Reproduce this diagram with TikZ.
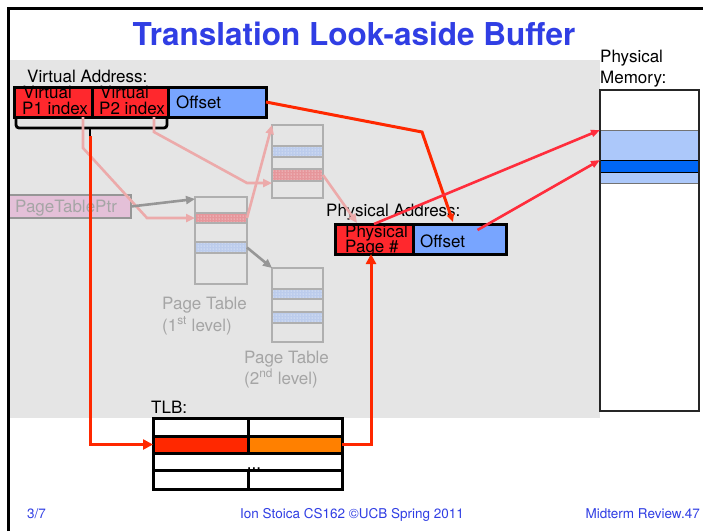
\documentclass[tikz,border=0pt]{standalone}
\usepackage{fontspec}
\setmainfont{TeX Gyre Heros}
\usetikzlibrary{arrows.meta,patterns,calc}

\definecolor{titleblue}{RGB}{48,62,228}
\definecolor{slidebg}{RGB}{229,229,229}
\definecolor{cellred}{RGB}{255,40,45}
\definecolor{cellblue}{RGB}{120,165,255}
\definecolor{linkred}{RGB}{255,40,0}
\definecolor{ptrred}{RGB}{255,45,60}
\definecolor{tlborange}{RGB}{255,128,0}
\definecolor{fadepink}{RGB}{236,170,170}
\definecolor{fadegray}{RGB}{150,150,150}
\definecolor{tablegray}{RGB}{175,175,175}
\definecolor{labelgray}{RGB}{165,165,165}
\definecolor{ptrfill}{RGB}{228,192,216}
\definecolor{rowpink}{RGB}{230,150,155}
\definecolor{rowblue}{RGB}{188,204,236}
\definecolor{memlight}{RGB}{172,200,250}
\definecolor{memdark}{RGB}{0,102,245}

\newcommand\fs[1]{\fontsize{#1}{#1}\selectfont}

\begin{document}
\begin{tikzpicture}[x=1pt,y=-1pt,
  box/.style 2 args={rectangle, anchor=north west, inner sep=0pt, outer sep=0pt,
                     minimum width=#1, minimum height=#2},
  txt/.style={inner sep=0pt, anchor=base west, font=\fs{17}},
  faint/.style={txt, text=labelgray},
  heavy/.style={draw=black, line width=3pt},
  tbl/.style={draw=tablegray, line width=1.1pt},
  pinkrow/.style={fill=rowpink, postaction={pattern=dots, pattern color=white}},
  bluerow/.style={fill=rowblue, postaction={pattern=dots, pattern color=white}},
  redlink/.style={draw=linkred, line width=3pt},
  redtip/.style={-{Triangle[length=10pt,width=10pt]}},
  ptrlink/.style={draw=ptrred, line width=2.6pt, -{Triangle[length=9pt,width=7pt]}},
  pinklink/.style={draw=fadepink, line width=2.6pt, -{Triangle[length=9pt,width=8pt]}},
  graylink/.style={draw=fadegray, line width=2.6pt, -{Triangle[length=9pt,width=8pt]}},
  footer/.style={inner sep=0pt, anchor=base, font=\fs{13.5}, text=titleblue},
]
\useasboundingbox (0,0) rectangle (703,531);
\fill[white] (0,0) rectangle (703,531);

% shaded work area
\fill[slidebg] (9,60) rectangle (600,418);

% title
\node[inner sep=0pt, anchor=base, font=\bfseries\fs{31.5}, text=titleblue] (title) at (354,45) {Translation Look-aside Buffer};

% physical memory
\node[txt] (memlabA) at (600,62) {Physical};
\node[txt] (memlabB) at (600,83) {Memory:};
\node[box={99pt}{321pt}, fill=white] (mem) at (600,90) {};
\node[box={99pt}{53pt}, fill=memlight, draw=black!55, line width=1pt] (page) at (600,130) {};
\node[box={99pt}{12pt}, fill=memdark, draw=black, line width=1pt] (word) at (600,160) {};
\draw[black!85, line width=1.8pt] (mem.north west) rectangle (mem.south east);

% page table pointer
\node[box={123pt}{23pt}, fill=ptrfill, draw=fadegray, line width=2.8pt] (ptr) at (8,195) {};
\node[txt, text=labelgray] (ptrtext) at (15,212) {PageTablePtr};

% first-level page table
\node[box={52pt}{87pt}] (pt1) at (195,197) {};
\node[box={52pt}{10pt}, pinkrow] (pt1a) at (195,213) {};
\node[box={52pt}{11pt}, bluerow] (pt1b) at (195,242) {};
\draw[tbl] (pt1.north west) rectangle (pt1.south east);
\draw[tbl] (pt1a.north west) rectangle (pt1a.south east);
\draw[tbl] (pt1b.north west) rectangle (pt1b.south east);

% second-level page tables
\node[box={51pt}{73pt}] (pt2a) at (272,125) {};
\node[box={51pt}{11pt}, bluerow] (pt2aa) at (272,146) {};
\node[box={51pt}{12pt}, pinkrow] (pt2ab) at (272,169) {};
\draw[tbl] (pt2a.north west) rectangle (pt2a.south east);
\draw[tbl] (pt2aa.north west) rectangle (pt2aa.south east);
\draw[tbl] (pt2ab.north west) rectangle (pt2ab.south east);

\node[box={51pt}{74pt}] (pt2b) at (272,268) {};
\node[box={51pt}{10pt}, bluerow] (pt2ba) at (272,289) {};
\node[box={51pt}{11pt}, bluerow] (pt2bb) at (272,312) {};
\draw[tbl] (pt2b.north west) rectangle (pt2b.south east);
\draw[tbl] (pt2ba.north west) rectangle (pt2ba.south east);
\draw[tbl] (pt2bb.north west) rectangle (pt2bb.south east);

\node[faint] (pt1labA) at (162,309) {Page Table};
\node[faint] (pt1labB) at (162,331) {(1\textsuperscript{st} level)};
\node[faint] (pt2labA) at (244,363) {Page Table};
\node[faint] (pt2labB) at (244,384) {(2\textsuperscript{nd} level)};

% virtual address
\node[txt] (valabel) at (27,82) {Virtual Address:};
\node[box={78pt}{30pt}, fill=cellred] (p1) at (14,87) {};
\node[box={76pt}{30pt}, fill=cellred] (p2) at (92,87) {};
\node[box={98pt}{30pt}, fill=cellblue] (voff) at (168,87) {};
\node[txt] (p1tA) at (23,98) {Virtual};
\node[txt] (p1tB) at (22,114) {P1 index};
\node[txt] (p2tA) at (100,98) {Virtual};
\node[txt] (p2tB) at (99,114) {P2 index};
\node[txt] (vofft) at (176,108) {Offset};
\draw[heavy] (p1.north west) rectangle (voff.south east);
\draw[heavy] (p1.north east) -- (p1.south east);
\draw[heavy] (p2.north east) -- (p2.south east);

% brace over the two index fields
\coordinate (bracetip) at (90,136);
\draw[black, line width=2.8pt, rounded corners=3pt] (16,118) |- (90,128) -| (167,118);
\draw[black, line width=2.8pt] (90,128) -- (bracetip);

% faded walk through the page tables
\draw[pinklink] ($(p1.south east)+(-9,0)$) -- (83,148) -- (147,218) -- (pt1a.west);
\draw[pinklink] ($(p2.south east)+(-14,0)$) -- (154,132) -- (247,183) -- ($(pt2a.south west)+(0,-15)$);
\draw[pinklink] (pt1a.east) -- (pt2a.north west);
\draw[graylink] (ptr.east) -- ($(pt1.north west)+(0,2)$);
\draw[graylink] (pt1b.east) -- (pt2b.north west);

% physical address
\node[txt] (palabel) at (326,216) {Physical Address:};
\node[box={78pt}{30pt}, fill=cellred] (ppn) at (335,224) {};
\node[box={93pt}{30pt}, fill=cellblue] (poff) at (413,224) {};
\node[txt] (ppntA) at (345,237) {Physical};
\node[txt] (ppntB) at (345,252) {Page \#};
\node[txt] (pofft) at (420,247) {Offset};
\draw[heavy] (ppn.north west) rectangle (poff.south east);
\draw[heavy] (ppn.north east) -- (ppn.south east);

\draw[pinklink] (pt2ab.east) -- ($(ppn.north west)+(22,-1)$);

% TLB
\node[txt] (tlblabel) at (151,413) {TLB:};
\node[box={95pt}{18pt}, fill=white, heavy] (t11) at (153,418) {};
\node[box={94pt}{18pt}, fill=white, heavy] (t12) at (248,418) {};
\node[box={95pt}{17pt}, fill=linkred, heavy] (t21) at (153,436) {};
\node[box={94pt}{17pt}, fill=tlborange, heavy] (t22) at (248,436) {};
\node[box={189pt}{17pt}, fill=white, heavy] (t3) at (153,453) {};
\node[box={95pt}{19pt}, fill=white, heavy] (t41) at (153,470) {};
\node[box={94pt}{19pt}, fill=white, heavy] (t42) at (248,470) {};
\node[inner sep=0pt, anchor=base, font=\fs{17}] (tdots) at (254,469) {...};

% translation path
\draw[redlink, redtip] (bracetip) |- (t21.west);
\draw[redlink, redtip] (t22.east) -| ($(ppn.south)+(-3,0)$);
\draw[redlink, -{Triangle[length=8pt,width=7pt]}] (voff.east) -- (422,132) -- ($(poff.north west)+(40,-2)$);
\draw[ptrlink] (ppn.north) -- (page.north west);
\draw[ptrlink] ($(poff.center)+(18,-9)$) -- (word.north west);

% slide frame
\draw[black, line width=3pt] (8,531) -- (8,8) -- (703,8);

% footer
\node[footer, anchor=base west] (footL) at (27,518) {3/7};
\node[footer] (footC) at (352,518) {Ion Stoica CS162 ©UCB Spring 2011};
\node[footer, anchor=base east] (footR) at (700,518) {Midterm Review.47};
\end{tikzpicture}
\end{document}
